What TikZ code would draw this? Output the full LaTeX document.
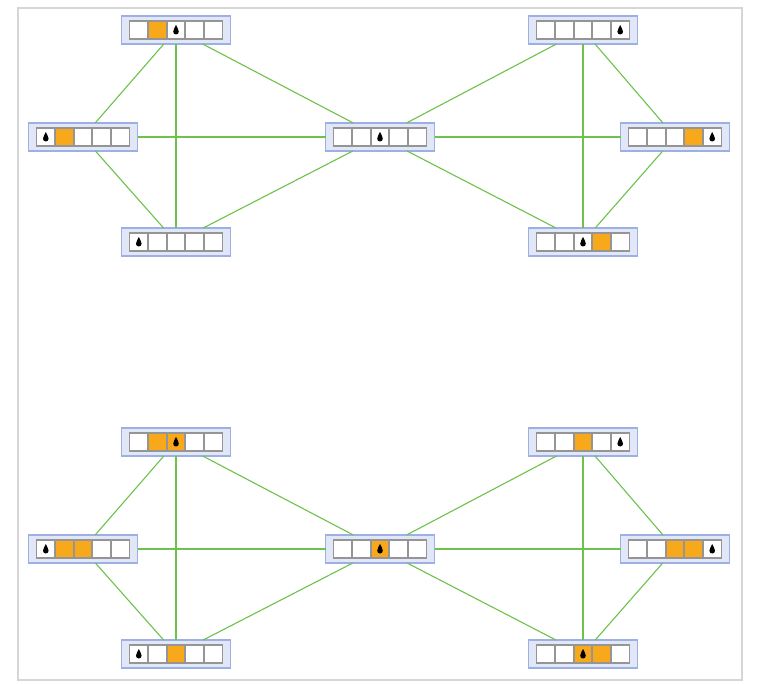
\documentclass[tikz,border=0pt]{standalone}
\begin{document}
\definecolor{edgegreen}{HTML}{6CC24A}
\definecolor{boxfill}{HTML}{E1E7F7}
\definecolor{boxline}{HTML}{9DB0E3}
\definecolor{cellline}{HTML}{959595}
\definecolor{tokenorange}{HTML}{F7A81B}
\definecolor{framegrey}{HTML}{D6D6D6}
\tikzset{
  statebox/.style={rectangle, draw=boxline, fill=boxfill, line width=1.6pt,
    minimum width=109pt, minimum height=28pt, inner sep=0pt, outer sep=0pt},
  cellrule/.style={draw=cellline, line width=1.9pt},
  link/.style={draw=edgegreen, line width=1.1pt},
  frame/.style={draw=framegrey, line width=1.5pt},
  pics/drop/.style={code={
    \fill[black] (0,-5) .. controls (0.9,-2.4) and (2.8,-0.7) .. (2.8,1.7)
      .. controls (2.8,3.4) and (1.5,4.5) .. (0,4.5)
      .. controls (-1.5,4.5) and (-2.8,3.4) .. (-2.8,1.7)
      .. controls (-2.8,-0.7) and (-0.9,-2.4) .. cycle;}}
}
% a state: name, x, y, list of fill/token pairs for the five cells
\newcommand\statenode[4]{%
  \node[statebox] (#1) at (#2,#3) {};
  \foreach \f/\k [count=\i] in {#4} {
    \fill[\f] ({#2+(\i-3)*18.6-9.3},{#3-9}) rectangle ++(18.6,18);
  }
  \foreach \f/\k [count=\i] in {#4} {
    \draw[cellrule] ({#2+(\i-3)*18.6-9.3},{#3-9}) rectangle ++(18.6,18);
    \ifnum\k=1 \pic at ({#2+(\i-3)*18.6},#3) {drop};\fi
  }
}
\begin{tikzpicture}[x=1pt,y=-1pt]
\useasboundingbox (0,0) rectangle (760,684);
\draw[frame] (18,8) rectangle (742,680);

% upper graph
\statenode{ta}{176}{30}{white/0,tokenorange/0,white/1,white/0,white/0}
\statenode{tb}{83}{137}{white/1,tokenorange/0,white/0,white/0,white/0}
\statenode{tc}{176}{242}{white/1,white/0,white/0,white/0,white/0}
\statenode{td}{380}{137}{white/0,white/0,white/1,white/0,white/0}
\statenode{te}{583}{30}{white/0,white/0,white/0,white/0,white/1}
\statenode{tf}{675}{137}{white/0,white/0,white/0,tokenorange/0,white/1}
\statenode{tg}{583}{242}{white/0,white/0,white/1,tokenorange/0,white/0}

% lower graph
\statenode{ba}{176}{442}{white/0,tokenorange/0,tokenorange/1,white/0,white/0}
\statenode{bb}{83}{549}{white/1,tokenorange/0,tokenorange/0,white/0,white/0}
\statenode{bc}{176}{654}{white/1,white/0,tokenorange/0,white/0,white/0}
\statenode{bd}{380}{549}{white/0,white/0,tokenorange/1,white/0,white/0}
\statenode{be}{583}{442}{white/0,white/0,tokenorange/0,white/0,white/1}
\statenode{bf}{675}{549}{white/0,white/0,tokenorange/0,tokenorange/0,white/1}
\statenode{bg}{583}{654}{white/0,white/0,tokenorange/1,tokenorange/0,white/0}

% transitions
\foreach \p in {t,b} {
  \draw[link] (\p a) -- (\p b);
  \draw[link] (\p a) -- (\p c);
  \draw[link] (\p a) -- (\p d);
  \draw[link] (\p b) -- (\p c);
  \draw[link] (\p b) -- (\p d);
  \draw[link] (\p c) -- (\p d);
  \draw[link] (\p d) -- (\p e);
  \draw[link] (\p d) -- (\p f);
  \draw[link] (\p d) -- (\p g);
  \draw[link] (\p e) -- (\p f);
  \draw[link] (\p e) -- (\p g);
  \draw[link] (\p f) -- (\p g);
}
\end{tikzpicture}
\end{document}
